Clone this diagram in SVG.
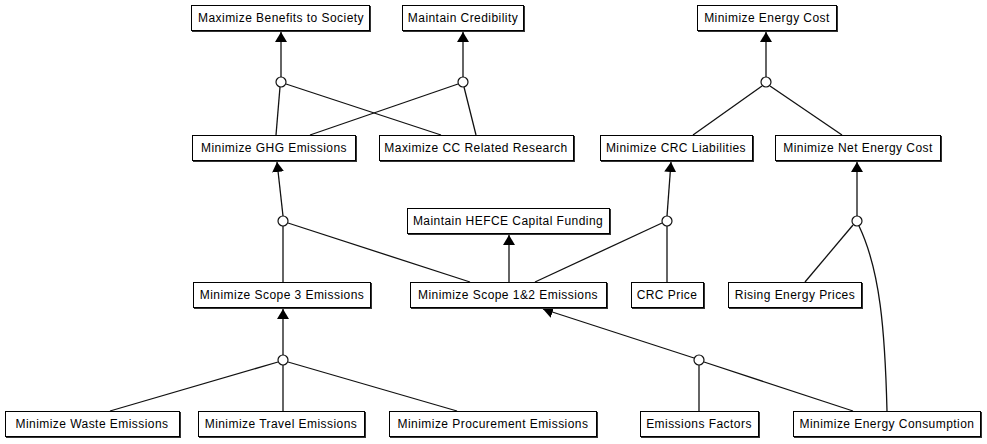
<svg xmlns="http://www.w3.org/2000/svg" width="987" height="444" viewBox="0 0 987 444">
<style>
.b rect.s{fill:#333;stroke:none}
.b rect.m{fill:#fff;stroke:#000;stroke-width:1}
.b text{font-family:"Liberation Sans",Arial,sans-serif;font-size:12px;letter-spacing:0.45px;fill:#000;text-anchor:middle}
.c path,.c line{fill:none;stroke:#111;stroke-width:1.3}
.c .a{marker-end:url(#ah)}
.j circle{fill:#fff;stroke:#111;stroke-width:1.2}
</style>
<defs>
<marker id="ah" viewBox="0 0 10 12" refX="10" refY="6" markerWidth="10" markerHeight="12" markerUnits="userSpaceOnUse" orient="auto">
<path d="M0,0 L10,6 L0,12 Z" fill="#000"/>
</marker>
</defs>
<rect width="987" height="444" fill="#fff"/>
<g class="c">
<line class="a" x1="281" y1="77" x2="281" y2="32"/>
<line x1="276" y1="135" x2="280" y2="87"/>
<line x1="441" y1="135" x2="286" y2="84"/>
<line class="a" x1="463" y1="77" x2="463" y2="32"/>
<line x1="310" y1="135" x2="458" y2="84"/>
<line x1="476" y1="135" x2="464" y2="87"/>
<line class="a" x1="766" y1="77" x2="766" y2="32"/>
<line x1="693" y1="135" x2="762" y2="86"/>
<line x1="842" y1="135" x2="770" y2="86"/>
<line class="a" x1="283" y1="216" x2="277" y2="162"/>
<line x1="283" y1="282" x2="283" y2="226"/>
<line x1="470" y1="282" x2="288" y2="223"/>
<line class="a" x1="667" y1="216" x2="671" y2="162"/>
<line x1="535" y1="282" x2="662" y2="223"/>
<line x1="667" y1="282" x2="667" y2="226"/>
<line class="a" x1="509" y1="282" x2="509" y2="235"/>
<line class="a" x1="857" y1="216" x2="857" y2="162"/>
<line x1="805" y1="282" x2="853" y2="225"/>
<path d="M887,411 C885,330 880,270 859,226"/>
<line class="a" x1="283" y1="355" x2="283" y2="309"/>
<line x1="110" y1="411" x2="278" y2="362"/>
<line x1="283" y1="411" x2="283" y2="365"/>
<line x1="457" y1="411" x2="288" y2="362"/>
<line class="a" x1="694" y1="358" x2="543" y2="309"/>
<line x1="699" y1="411" x2="699" y2="365"/>
<line x1="853" y1="411" x2="704" y2="362"/>
</g>
<g class="j">
<circle id="j1" cx="281" cy="82" r="5"/>
<circle id="j2" cx="463" cy="82" r="5"/>
<circle id="j3" cx="766" cy="82" r="5"/>
<circle id="j4" cx="283" cy="221" r="5"/>
<circle id="j5" cx="667" cy="221" r="5"/>
<circle id="j6" cx="857" cy="221" r="5"/>
<circle id="j7" cx="283" cy="360" r="5"/>
<circle id="j8" cx="699" cy="360" r="5"/>
</g>
<g id="n_benefits" class="b"><rect class="s" x="192" y="6" width="179" height="26"/><rect class="m" x="191.5" y="5.5" width="178" height="25"/><text x="281" y="22">Maximize Benefits to Society</text></g>
<g id="n_credibility" class="b"><rect class="s" x="403" y="6" width="122" height="26"/><rect class="m" x="402.5" y="5.5" width="121" height="25"/><text x="463" y="22">Maintain Credibility</text></g>
<g id="n_energycost" class="b"><rect class="s" x="698" y="6" width="140" height="26"/><rect class="m" x="697.5" y="5.5" width="139" height="25"/><text x="767" y="22">Minimize Energy Cost</text></g>
<g id="n_ghg" class="b"><rect class="s" x="193" y="136" width="164" height="26"/><rect class="m" x="192.5" y="135.5" width="163" height="25"/><text x="274" y="152">Minimize GHG Emissions</text></g>
<g id="n_cc" class="b"><rect class="s" x="380" y="136" width="195" height="26"/><rect class="m" x="379.5" y="135.5" width="194" height="25"/><text x="476" y="152">Maximize CC Related Research</text></g>
<g id="n_crc" class="b"><rect class="s" x="601" y="136" width="153" height="26"/><rect class="m" x="600.5" y="135.5" width="152" height="25"/><text x="676" y="152">Minimize CRC Liabilities</text></g>
<g id="n_netenergy" class="b"><rect class="s" x="776" y="136" width="166" height="26"/><rect class="m" x="775.5" y="135.5" width="165" height="25"/><text x="858" y="152">Minimize Net Energy Cost</text></g>
<g id="n_hefce" class="b"><rect class="s" x="408" y="209" width="203" height="26"/><rect class="m" x="407.5" y="208.5" width="202" height="25"/><text x="508" y="225">Maintain HEFCE Capital Funding</text></g>
<g id="n_scope3" class="b"><rect class="s" x="194" y="283" width="178" height="26"/><rect class="m" x="193.5" y="282.5" width="177" height="25"/><text x="282" y="299">Minimize Scope 3 Emissions</text></g>
<g id="n_scope12" class="b"><rect class="s" x="411" y="283" width="197" height="26"/><rect class="m" x="410.5" y="282.5" width="196" height="25"/><text x="508" y="299">Minimize Scope 1&amp;2 Emissions</text></g>
<g id="n_crcprice" class="b"><rect class="s" x="632" y="283" width="73" height="26"/><rect class="m" x="631.5" y="282.5" width="72" height="25"/><text x="667" y="299">CRC Price</text></g>
<g id="n_rising" class="b"><rect class="s" x="729" y="283" width="134" height="26"/><rect class="m" x="728.5" y="282.5" width="133" height="25"/><text x="795" y="299">Rising Energy Prices</text></g>
<g id="n_waste" class="b"><rect class="s" x="6" y="412" width="175" height="26"/><rect class="m" x="5.5" y="411.5" width="174" height="25"/><text x="92" y="428">Minimize Waste Emissions</text></g>
<g id="n_travel" class="b"><rect class="s" x="199" y="412" width="167" height="26"/><rect class="m" x="198.5" y="411.5" width="166" height="25"/><text x="281" y="428">Minimize Travel Emissions</text></g>
<g id="n_procurement" class="b"><rect class="s" x="390" y="412" width="208" height="26"/><rect class="m" x="389.5" y="411.5" width="207" height="25"/><text x="493" y="428">Minimize Procurement Emissions</text></g>
<g id="n_factors" class="b"><rect class="s" x="641" y="412" width="119" height="26"/><rect class="m" x="640.5" y="411.5" width="118" height="25"/><text x="699" y="428">Emissions Factors</text></g>
<g id="n_consumption" class="b"><rect class="s" x="794" y="412" width="188" height="26"/><rect class="m" x="793.5" y="411.5" width="187" height="25"/><text x="887" y="428">Minimize Energy Consumption</text></g>
</svg>
